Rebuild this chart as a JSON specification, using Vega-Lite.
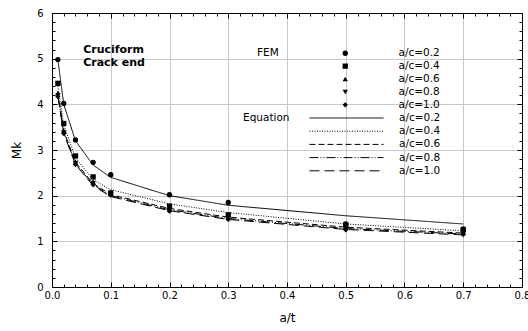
{
  "$schema": "https://vega.github.io/schema/vega-lite/v6.json",
  "width": 470,
  "height": 274,
  "autosize": {"type": "none"},
  "padding": {"left": 52, "top": 13, "right": 6, "bottom": 44},
  "background": "white",
  "config": {
    "view": {"stroke": null},
    "font": "DejaVu Sans",
    "axis": {"domainColor": "black", "tickColor": "black", "labelColor": "black", "titleColor": "black", "labelFont": "DejaVu Sans", "titleFont": "DejaVu Sans", "titleFontWeight": "normal", "labelFontSize": 10, "titleFontSize": 12, "gridColor": "#c8c8c8", "labelOverlap": false, "labelBound": false, "labelFlush": false},
    "legend": {"labelFont": "DejaVu Sans", "titleFont": "DejaVu Sans", "labelFontSize": 10.5, "titleFontSize": 10.5, "titleFontWeight": "normal", "labelColor": "black", "titleColor": "black"}
  },
  "datasets": {
    "fem": [
      {"x": 0.01, "mk": 4.98, "ac": "a/c=0.2"}, {"x": 0.02, "mk": 4.02, "ac": "a/c=0.2"}, {"x": 0.04, "mk": 3.22, "ac": "a/c=0.2"}, {"x": 0.07, "mk": 2.73, "ac": "a/c=0.2"}, {"x": 0.1, "mk": 2.46, "ac": "a/c=0.2"}, {"x": 0.2, "mk": 2.02, "ac": "a/c=0.2"}, {"x": 0.3, "mk": 1.85, "ac": "a/c=0.2"}, {"x": 0.5, "mk": 1.38, "ac": "a/c=0.2"}, {"x": 0.7, "mk": 1.27, "ac": "a/c=0.2"},
      {"x": 0.01, "mk": 4.46, "ac": "a/c=0.4"}, {"x": 0.02, "mk": 3.58, "ac": "a/c=0.4"}, {"x": 0.04, "mk": 2.87, "ac": "a/c=0.4"}, {"x": 0.07, "mk": 2.41, "ac": "a/c=0.4"}, {"x": 0.1, "mk": 2.06, "ac": "a/c=0.4"}, {"x": 0.2, "mk": 1.77, "ac": "a/c=0.4"}, {"x": 0.3, "mk": 1.58, "ac": "a/c=0.4"}, {"x": 0.5, "mk": 1.36, "ac": "a/c=0.4"}, {"x": 0.7, "mk": 1.25, "ac": "a/c=0.4"},
      {"x": 0.01, "mk": 4.25, "ac": "a/c=0.6"}, {"x": 0.02, "mk": 3.42, "ac": "a/c=0.6"}, {"x": 0.04, "mk": 2.75, "ac": "a/c=0.6"}, {"x": 0.07, "mk": 2.31, "ac": "a/c=0.6"}, {"x": 0.1, "mk": 2.04, "ac": "a/c=0.6"}, {"x": 0.2, "mk": 1.71, "ac": "a/c=0.6"}, {"x": 0.3, "mk": 1.53, "ac": "a/c=0.6"}, {"x": 0.5, "mk": 1.3, "ac": "a/c=0.6"}, {"x": 0.7, "mk": 1.2, "ac": "a/c=0.6"},
      {"x": 0.01, "mk": 4.2, "ac": "a/c=0.8"}, {"x": 0.02, "mk": 3.38, "ac": "a/c=0.8"}, {"x": 0.04, "mk": 2.71, "ac": "a/c=0.8"}, {"x": 0.07, "mk": 2.27, "ac": "a/c=0.8"}, {"x": 0.1, "mk": 2.02, "ac": "a/c=0.8"}, {"x": 0.2, "mk": 1.68, "ac": "a/c=0.8"}, {"x": 0.3, "mk": 1.5, "ac": "a/c=0.8"}, {"x": 0.5, "mk": 1.27, "ac": "a/c=0.8"}, {"x": 0.7, "mk": 1.17, "ac": "a/c=0.8"},
      {"x": 0.01, "mk": 4.17, "ac": "a/c=1.0"}, {"x": 0.02, "mk": 3.36, "ac": "a/c=1.0"}, {"x": 0.04, "mk": 2.68, "ac": "a/c=1.0"}, {"x": 0.07, "mk": 2.24, "ac": "a/c=1.0"}, {"x": 0.1, "mk": 2.01, "ac": "a/c=1.0"}, {"x": 0.2, "mk": 1.66, "ac": "a/c=1.0"}, {"x": 0.3, "mk": 1.48, "ac": "a/c=1.0"}, {"x": 0.5, "mk": 1.25, "ac": "a/c=1.0"}, {"x": 0.7, "mk": 1.15, "ac": "a/c=1.0"}
    ],
    "eq": [
      {"x": 0.01, "mk": 4.98, "ac": "a/c=0.2"}, {"x": 0.02, "mk": 4.0, "ac": "a/c=0.2"}, {"x": 0.04, "mk": 3.2, "ac": "a/c=0.2"}, {"x": 0.07, "mk": 2.67, "ac": "a/c=0.2"}, {"x": 0.1, "mk": 2.4, "ac": "a/c=0.2"}, {"x": 0.2, "mk": 2.0, "ac": "a/c=0.2"}, {"x": 0.3, "mk": 1.79, "ac": "a/c=0.2"}, {"x": 0.5, "mk": 1.56, "ac": "a/c=0.2"}, {"x": 0.7, "mk": 1.38, "ac": "a/c=0.2"},
      {"x": 0.01, "mk": 4.4, "ac": "a/c=0.4"}, {"x": 0.02, "mk": 3.55, "ac": "a/c=0.4"}, {"x": 0.04, "mk": 2.83, "ac": "a/c=0.4"}, {"x": 0.07, "mk": 2.35, "ac": "a/c=0.4"}, {"x": 0.1, "mk": 2.13, "ac": "a/c=0.4"}, {"x": 0.2, "mk": 1.82, "ac": "a/c=0.4"}, {"x": 0.3, "mk": 1.63, "ac": "a/c=0.4"}, {"x": 0.5, "mk": 1.38, "ac": "a/c=0.4"}, {"x": 0.7, "mk": 1.23, "ac": "a/c=0.4"},
      {"x": 0.01, "mk": 4.25, "ac": "a/c=0.6"}, {"x": 0.02, "mk": 3.42, "ac": "a/c=0.6"}, {"x": 0.04, "mk": 2.73, "ac": "a/c=0.6"}, {"x": 0.07, "mk": 2.27, "ac": "a/c=0.6"}, {"x": 0.1, "mk": 2.02, "ac": "a/c=0.6"}, {"x": 0.2, "mk": 1.72, "ac": "a/c=0.6"}, {"x": 0.3, "mk": 1.53, "ac": "a/c=0.6"}, {"x": 0.5, "mk": 1.31, "ac": "a/c=0.6"}, {"x": 0.7, "mk": 1.18, "ac": "a/c=0.6"},
      {"x": 0.01, "mk": 4.2, "ac": "a/c=0.8"}, {"x": 0.02, "mk": 3.38, "ac": "a/c=0.8"}, {"x": 0.04, "mk": 2.7, "ac": "a/c=0.8"}, {"x": 0.07, "mk": 2.24, "ac": "a/c=0.8"}, {"x": 0.1, "mk": 2.0, "ac": "a/c=0.8"}, {"x": 0.2, "mk": 1.69, "ac": "a/c=0.8"}, {"x": 0.3, "mk": 1.5, "ac": "a/c=0.8"}, {"x": 0.5, "mk": 1.28, "ac": "a/c=0.8"}, {"x": 0.7, "mk": 1.16, "ac": "a/c=0.8"},
      {"x": 0.01, "mk": 4.18, "ac": "a/c=1.0"}, {"x": 0.02, "mk": 3.36, "ac": "a/c=1.0"}, {"x": 0.04, "mk": 2.68, "ac": "a/c=1.0"}, {"x": 0.07, "mk": 2.22, "ac": "a/c=1.0"}, {"x": 0.1, "mk": 1.98, "ac": "a/c=1.0"}, {"x": 0.2, "mk": 1.67, "ac": "a/c=1.0"}, {"x": 0.3, "mk": 1.48, "ac": "a/c=1.0"}, {"x": 0.5, "mk": 1.26, "ac": "a/c=1.0"}, {"x": 0.7, "mk": 1.14, "ac": "a/c=1.0"}
    ]
  },
  "layer": [
    {
      "data": {"name": "eq"},
      "mark": {"type": "line", "color": "black", "strokeWidth": 1},
      "encoding": {
        "x": {"field": "x", "type": "quantitative", "scale": {"domain": [0, 0.8], "nice": false},
          "axis": {"orient": "top", "title": null, "labels": false, "grid": false, "domain": true,
            "values": [0,0.02,0.04,0.06,0.08,0.1,0.12,0.14,0.16,0.18,0.2,0.22,0.24,0.26,0.28,0.3,0.32,0.34,0.36,0.38,0.4,0.42,0.44,0.46,0.48,0.5,0.52,0.54,0.56,0.58,0.6,0.62,0.64,0.66,0.68,0.7,0.72,0.74,0.76,0.78,0.8],
            "tickSize": {"condition": {"test": "abs(datum.value*10 - round(datum.value*10)) < 0.001", "value": -5}, "value": -3}}},
        "y": {"field": "mk", "type": "quantitative", "scale": {"domain": [0, 6], "nice": false},
          "axis": {"orient": "right", "title": null, "labels": false, "grid": false, "domain": true,
            "values": [0,0.2,0.4,0.6,0.8,1,1.2,1.4,1.6,1.8,2,2.2,2.4,2.6,2.8,3,3.2,3.4,3.6,3.8,4,4.2,4.4,4.6,4.8,5,5.2,5.4,5.6,5.8,6],
            "tickSize": {"condition": {"test": "abs(datum.value - round(datum.value)) < 0.001", "value": -5}, "value": -3}}},
        "strokeDash": {"field": "ac", "type": "nominal",
          "scale": {"domain": ["a/c=0.2","a/c=0.4","a/c=0.6","a/c=0.8","a/c=1.0"], "range": [[1,0],[1,1.5],[6,3],[9,2,1,2,1,2],[10,5]]},
          "legend": {"title": "Equation", "orient": "none", "legendX": 191, "legendY": 99.5, "titleOrient": "left", "titlePadding": 51, "titleAnchor": "start", "symbolType": "M-8,0H8", "symbolSize": 85.6, "symbolStrokeColor": "black", "symbolStrokeWidth": 1, "labelOffset": 47, "rowPadding": 2.2}}
      }
    },
    {
      "data": {"name": "fem"},
      "mark": {"type": "point", "filled": true, "color": "black", "size": 28, "opacity": 1},
      "encoding": {
        "x": {"field": "x", "type": "quantitative", "title": "a/t",
          "axis": {"orient": "bottom", "grid": true, "titlePadding": 10,
            "values": [0,0.02,0.04,0.06,0.08,0.1,0.12,0.14,0.16,0.18,0.2,0.22,0.24,0.26,0.28,0.3,0.32,0.34,0.36,0.38,0.4,0.42,0.44,0.46,0.48,0.5,0.52,0.54,0.56,0.58,0.6,0.62,0.64,0.66,0.68,0.7,0.72,0.74,0.76,0.78,0.8],
            "labelExpr": "abs(datum.value*10 - round(datum.value*10)) < 0.001 ? format(datum.value, '.1f') : ''",
            "gridOpacity": {"condition": {"test": "abs(datum.value*10 - round(datum.value*10)) < 0.001", "value": 1}, "value": 0},
            "labelPadding": 8,
            "tickSize": {"condition": {"test": "abs(datum.value*10 - round(datum.value*10)) < 0.001", "value": -5}, "value": -3}}},
        "y": {"field": "mk", "type": "quantitative", "title": "Mk",
          "axis": {"orient": "left", "grid": true, "titlePadding": 13,
            "values": [0,0.2,0.4,0.6,0.8,1,1.2,1.4,1.6,1.8,2,2.2,2.4,2.6,2.8,3,3.2,3.4,3.6,3.8,4,4.2,4.4,4.6,4.8,5,5.2,5.4,5.6,5.8,6],
            "labelExpr": "abs(datum.value - round(datum.value)) < 0.001 ? format(datum.value, '.0f') : ''",
            "gridOpacity": {"condition": {"test": "abs(datum.value - round(datum.value)) < 0.001", "value": 1}, "value": 0},
            "labelPadding": 14,
            "tickSize": {"condition": {"test": "abs(datum.value - round(datum.value)) < 0.001", "value": -5}, "value": -3}}},
        "shape": {"field": "ac", "type": "nominal",
          "scale": {"domain": ["a/c=0.2","a/c=0.4","a/c=0.6","a/c=0.8","a/c=1.0"], "range": ["circle","square","triangle-up","triangle-down","diamond"]},
          "legend": {"title": "FEM", "orient": "none", "legendX": 205, "legendY": 35, "titleOrient": "left", "titlePadding": 61, "titleAnchor": "start", "symbolFillColor": "black", "symbolStrokeColor": "black", "symbolSize": 28, "labelOffset": 48, "rowPadding": 0.9}}
      }
    },
    {
      "data": {"values": [{}]},
      "mark": {"type": "text", "text": ["Cruciform", "Crack end"], "font": "DejaVu Sans", "fontWeight": "bold", "fontSize": 11, "align": "left", "baseline": "middle", "lineHeight": 13, "color": "black"},
      "encoding": {
        "x": {"datum": 0.053, "type": "quantitative", "axis": null},
        "y": {"datum": 5.19, "type": "quantitative", "axis": null}
      }
    }
  ],
  "resolve": {"axis": {"x": "independent", "y": "independent"}, "legend": {"shape": "independent", "strokeDash": "independent"}}
}
